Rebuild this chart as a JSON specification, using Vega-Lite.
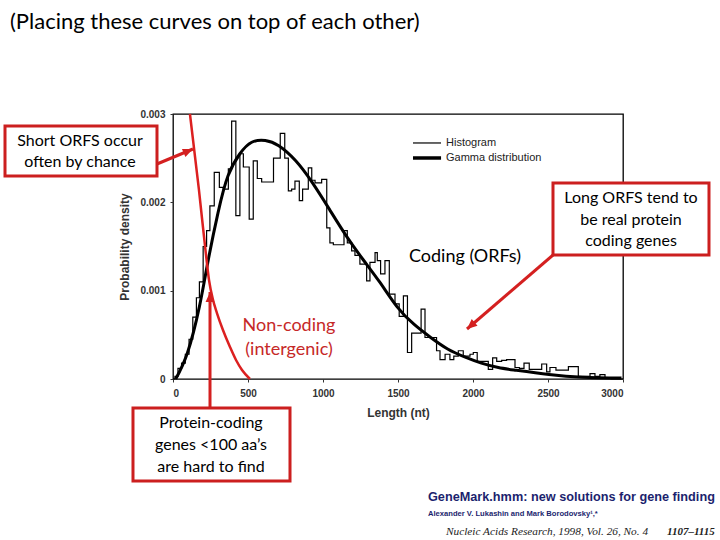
{
  "$schema": "https://vega.github.io/schema/vega-lite/v6.json",
  "width": 450,
  "height": 265,
  "autosize": "none",
  "padding": {"left": 173, "top": 114, "right": 97, "bottom": 161},
  "background": "white",
  "config": {
    "view": {"stroke": "black", "strokeWidth": 1.3},
    "axis": {"grid": false, "domain": false, "labelFont": "Liberation Sans", "labelFontWeight": "bold", "labelFontSize": 10, "labelColor": "#333", "tickColor": "#333", "tickSize": 3, "titleFont": "Liberation Sans", "titleFontWeight": "bold", "titleFontSize": 12, "titleColor": "#333"}
  },
  "datasets": {
    "hist": [
      {"x": 0, "y": 0}, {"x": 13, "y": 0.00003}, {"x": 33, "y": 0.00012}, {"x": 57, "y": 0.00018}, {"x": 82, "y": 0.00028},
      {"x": 107, "y": 0.00045}, {"x": 132, "y": 0.0007}, {"x": 156, "y": 0.00092}, {"x": 176, "y": 0.0011}, {"x": 201, "y": 0.0015},
      {"x": 224, "y": 0.00168}, {"x": 246, "y": 0.00196}, {"x": 275, "y": 0.00234}, {"x": 309, "y": 0.00217}, {"x": 335, "y": 0.00215},
      {"x": 369, "y": 0.00238}, {"x": 391, "y": 0.00292}, {"x": 419, "y": 0.00185}, {"x": 446, "y": 0.00255}, {"x": 469, "y": 0.0024},
      {"x": 508, "y": 0.00181}, {"x": 535, "y": 0.00247}, {"x": 562, "y": 0.00227}, {"x": 591, "y": 0.00223}, {"x": 670, "y": 0.0025},
      {"x": 715, "y": 0.00278}, {"x": 745, "y": 0.0025}, {"x": 769, "y": 0.00213}, {"x": 791, "y": 0.00215}, {"x": 813, "y": 0.00224},
      {"x": 842, "y": 0.00202}, {"x": 864, "y": 0.00215}, {"x": 902, "y": 0.00239}, {"x": 925, "y": 0.00225}, {"x": 947, "y": 0.00222},
      {"x": 991, "y": 0.00226}, {"x": 1025, "y": 0.00171}, {"x": 1046, "y": 0.00154}, {"x": 1069, "y": 0.00152}, {"x": 1140, "y": 0.00168},
      {"x": 1162, "y": 0.00154}, {"x": 1191, "y": 0.00145}, {"x": 1213, "y": 0.0014}, {"x": 1246, "y": 0.0013}, {"x": 1291, "y": 0.00111},
      {"x": 1313, "y": 0.00132}, {"x": 1347, "y": 0.00143}, {"x": 1362, "y": 0.00134}, {"x": 1384, "y": 0.00119}, {"x": 1413, "y": 0.00134},
      {"x": 1442, "y": 0.00096}, {"x": 1480, "y": 0.00085}, {"x": 1508, "y": 0.00071}, {"x": 1536, "y": 0.00094}, {"x": 1563, "y": 0.0003},
      {"x": 1591, "y": 0.00052}, {"x": 1654, "y": 0.00079}, {"x": 1680, "y": 0.00047}, {"x": 1757, "y": 0.00032}, {"x": 1780, "y": 0.00022},
      {"x": 1814, "y": 0.00028}, {"x": 1846, "y": 0.00022}, {"x": 1872, "y": 0.00026}, {"x": 1902, "y": 0.00032}, {"x": 1935, "y": 0.00026},
      {"x": 1980, "y": 0.00028}, {"x": 2002, "y": 0.0003}, {"x": 2028, "y": 0.0002}, {"x": 2102, "y": 0.00011}, {"x": 2131, "y": 0.00024},
      {"x": 2158, "y": 0.0002}, {"x": 2191, "y": 0.00021}, {"x": 2224, "y": 0.00022}, {"x": 2280, "y": 0.00013}, {"x": 2309, "y": 0.00012},
      {"x": 2340, "y": 0.00018}, {"x": 2375, "y": 0.00011}, {"x": 2458, "y": 0.00017}, {"x": 2491, "y": 0.00008}, {"x": 2513, "y": 0.00013},
      {"x": 2553, "y": 0.0001}, {"x": 2575, "y": 0.0001}, {"x": 2636, "y": 0.00014}, {"x": 2669, "y": 0.00014}, {"x": 2702, "y": 0.00003},
      {"x": 2780, "y": 0.00006}, {"x": 2813, "y": 0.00003}, {"x": 2846, "y": 0.00005}, {"x": 2880, "y": 0.00001}, {"x": 2920, "y": 0},
      {"x": 3000, "y": 0}
    ],
    "gamma": [
      {"x": 18, "y": 0}, {"x": 97, "y": 0.0003}, {"x": 176, "y": 0.00082}, {"x": 232, "y": 0.00132}, {"x": 300, "y": 0.00188},
      {"x": 367, "y": 0.0023}, {"x": 446, "y": 0.00255}, {"x": 525, "y": 0.00268}, {"x": 615, "y": 0.0027}, {"x": 705, "y": 0.00264},
      {"x": 818, "y": 0.00247}, {"x": 930, "y": 0.00222}, {"x": 1043, "y": 0.00192}, {"x": 1155, "y": 0.00162}, {"x": 1268, "y": 0.00135},
      {"x": 1381, "y": 0.00109}, {"x": 1493, "y": 0.00082}, {"x": 1606, "y": 0.00062}, {"x": 1718, "y": 0.00047}, {"x": 1831, "y": 0.00034},
      {"x": 1944, "y": 0.00025}, {"x": 2056, "y": 0.00018}, {"x": 2169, "y": 0.00013}, {"x": 2281, "y": 0.0001}, {"x": 2507, "y": 0.00005},
      {"x": 2732, "y": 0.00002}, {"x": 2990, "y": 0.00001}
    ],
    "noncoding": [
      {"x": 113, "y": 0.003}, {"x": 173, "y": 0.00214}, {"x": 220, "y": 0.001404}, {"x": 240, "y": 0.001121}, {"x": 267, "y": 0.000894},
      {"x": 293, "y": 0.000747}, {"x": 333, "y": 0.000555}, {"x": 380, "y": 0.000362}, {"x": 420, "y": 0.000215}, {"x": 460, "y": 0.000102},
      {"x": 513, "y": 0}
    ]
  },
  "layer": [
    {
      "data": {"name": "hist"},
      "mark": {"type": "line", "interpolate": "step-after", "color": "black", "strokeWidth": 1.2},
      "encoding": {
        "x": {"field": "x", "type": "quantitative", "scale": {"domain": [0, 3000], "nice": false, "zero": false},
              "axis": {"title": "Length (nt)", "values": [0, 500, 1000, 1500, 2000, 2500, 3000], "format": "d", "labelPadding": 6, "titlePadding": 9}},
        "y": {"field": "y", "type": "quantitative", "scale": {"domain": [0, 0.003], "nice": false, "zero": false},
              "axis": {"title": "Probability density", "values": [0, 0.001, 0.002, 0.003], "format": "~g", "labelPadding": 5, "titlePadding": 8}}
      }
    },
    {
      "data": {"name": "gamma"},
      "mark": {"type": "line", "interpolate": "natural", "color": "black", "strokeWidth": 3},
      "encoding": {"x": {"field": "x", "type": "quantitative"}, "y": {"field": "y", "type": "quantitative"}}
    },
    {
      "data": {"name": "noncoding"},
      "mark": {"type": "line", "interpolate": "monotone", "color": "#dc2020", "strokeWidth": 2.5},
      "encoding": {"x": {"field": "x", "type": "quantitative"}, "y": {"field": "y", "type": "quantitative"}}
    },
    {
      "data": {"values": [{"x": 1600, "x2": 1787, "y": 0.002672}]},
      "mark": {"type": "rule", "color": "black", "strokeWidth": 1.2},
      "encoding": {"x": {"field": "x", "type": "quantitative"}, "x2": {"field": "x2"}, "y": {"field": "y", "type": "quantitative"}}
    },
    {
      "data": {"values": [{"x": 1600, "x2": 1787, "y": 0.002502}]},
      "mark": {"type": "rule", "color": "black", "strokeWidth": 3.5},
      "encoding": {"x": {"field": "x", "type": "quantitative"}, "x2": {"field": "x2"}, "y": {"field": "y", "type": "quantitative"}}
    },
    {
      "data": {"values": [{"x": 1820, "y": 0.002672, "label": "Histogram"}, {"x": 1820, "y": 0.002502, "label": "Gamma distribution"}]},
      "mark": {"type": "text", "align": "left", "baseline": "middle", "font": "Liberation Sans", "fontSize": 11, "color": "#222"},
      "encoding": {"x": {"field": "x", "type": "quantitative"}, "y": {"field": "y", "type": "quantitative"}, "text": {"field": "label"}}
    },
    {
      "data": {"values": [
        {"x": -106.7, "y": 0.002434, "x2": 133.3, "y2": 0.0026038},
        {"x": 246.7, "y": -0.0003283, "x2": 246.7, "y2": 0.0009849},
        {"x": 2533.3, "y": 0.0014038, "x2": 1960, "y2": 0.000566}
      ]},
      "mark": {"type": "rule", "color": "#d42020", "strokeWidth": 3},
      "encoding": {"x": {"field": "x", "type": "quantitative"}, "y": {"field": "y", "type": "quantitative"}, "x2": {"field": "x2"}, "y2": {"field": "y2"}}
    },
    {
      "data": {"values": [{"x": 133.3, "y": 0.0026038}]},
      "mark": {"type": "point", "shape": "M0,0 L-0.7,1.6 L0.7,1.6 Z", "angle": 67, "size": 160, "filled": true, "color": "#d42020", "opacity": 1},
      "encoding": {"x": {"field": "x", "type": "quantitative"}, "y": {"field": "y", "type": "quantitative"}}
    },
    {
      "data": {"values": [{"x": 246.7, "y": 0.0009849}]},
      "mark": {"type": "point", "shape": "M0,0 L-0.7,1.6 L0.7,1.6 Z", "angle": 0, "size": 160, "filled": true, "color": "#d42020", "opacity": 1},
      "encoding": {"x": {"field": "x", "type": "quantitative"}, "y": {"field": "y", "type": "quantitative"}}
    },
    {
      "data": {"values": [{"x": 1960, "y": 0.000566}]},
      "mark": {"type": "point", "shape": "M0,0 L-0.7,1.6 L0.7,1.6 Z", "angle": 229, "size": 160, "filled": true, "color": "#d42020", "opacity": 1},
      "encoding": {"x": {"field": "x", "type": "quantitative"}, "y": {"field": "y", "type": "quantitative"}}
    },
    {
      "data": {"values": [
        {"x": -1120, "x2": -106.7, "y": 0.0028642, "y2": 0.0022981},
        {"x": -266.7, "x2": 780, "y": -0.0003283, "y2": -0.0011547},
        {"x": 2533.3, "x2": 3573.3, "y": 0.0022189, "y2": 0.0014038}
      ]},
      "mark": {"type": "rect", "fill": "white", "stroke": "#cc1f1f", "strokeWidth": 3},
      "encoding": {"x": {"field": "x", "type": "quantitative"}, "x2": {"field": "x2"}, "y": {"field": "y", "type": "quantitative"}, "y2": {"field": "y2"}}
    },
    {
      "data": {"values": [
        {"x": -620, "y": 0.0026943, "label": "Short ORFS occur"},
        {"x": -620, "y": 0.0024566, "label": "often by chance"},
        {"x": 253.3, "y": -0.000498, "label": "Protein-coding"},
        {"x": 253.3, "y": -0.000747, "label": "genes <100 aa’s"},
        {"x": 253.3, "y": -0.000996, "label": "are hard to find"},
        {"x": 3053.3, "y": 0.0020491, "label": "Long ORFS tend to"},
        {"x": 3053.3, "y": 0.0018, "label": "be real protein"},
        {"x": 3053.3, "y": 0.0015623, "label": "coding genes"}
      ]},
      "mark": {"type": "text", "align": "center", "baseline": "middle", "font": "Lato", "fontSize": 16, "color": "black"},
      "encoding": {"x": {"field": "x", "type": "quantitative"}, "y": {"field": "y", "type": "quantitative"}, "text": {"field": "label"}}
    },
    {
      "data": {"values": [{"x": 1946.7, "y": 0.0013811, "label": "Coding (ORFs)"}]},
      "mark": {"type": "text", "align": "center", "baseline": "middle", "font": "Lato", "fontSize": 18, "color": "black"},
      "encoding": {"x": {"field": "x", "type": "quantitative"}, "y": {"field": "y", "type": "quantitative"}, "text": {"field": "label"}}
    },
    {
      "data": {"values": [
        {"x": 773.3, "y": 0.0006, "label": "Non-coding"},
        {"x": 773.3, "y": 0.0003283, "label": "(intergenic)"}
      ]},
      "mark": {"type": "text", "align": "center", "baseline": "middle", "font": "Lato", "fontSize": 18, "color": "#c62828"},
      "encoding": {"x": {"field": "x", "type": "quantitative"}, "y": {"field": "y", "type": "quantitative"}, "text": {"field": "label"}}
    },
    {
      "data": {"values": [{"x": -1086.7, "y": 0.0040416, "label": "(Placing these curves on top of each other)"}]},
      "mark": {"type": "text", "align": "left", "baseline": "middle", "font": "Lato", "fontSize": 22, "color": "black"},
      "encoding": {"x": {"field": "x", "type": "quantitative"}, "y": {"field": "y", "type": "quantitative"}, "text": {"field": "label"}}
    },
    {
      "data": {"values": [{"x": 1700, "y": -0.0013358, "label": "GeneMark.hmm: new solutions for gene finding"}]},
      "mark": {"type": "text", "align": "left", "baseline": "middle", "font": "Liberation Sans", "fontWeight": "bold", "fontSize": 12.7, "color": "#1c1f6e"},
      "encoding": {"x": {"field": "x", "type": "quantitative"}, "y": {"field": "y", "type": "quantitative"}, "text": {"field": "label"}}
    },
    {
      "data": {"values": [{"x": 1700, "y": -0.0015283, "label": "Alexander V. Lukashin and Mark Borodovsky¹,*"}]},
      "mark": {"type": "text", "align": "left", "baseline": "middle", "font": "Liberation Sans", "fontWeight": "bold", "fontSize": 7.6, "color": "#1c1f6e"},
      "encoding": {"x": {"field": "x", "type": "quantitative"}, "y": {"field": "y", "type": "quantitative"}, "text": {"field": "label"}}
    },
    {
      "data": {"values": [{"x": 1820, "y": -0.001732, "label": "Nucleic Acids Research, 1998, Vol. 26, No. 4"}]},
      "mark": {"type": "text", "align": "left", "baseline": "middle", "font": "Liberation Serif", "fontStyle": "italic", "fontSize": 11.3, "color": "#222"},
      "encoding": {"x": {"field": "x", "type": "quantitative"}, "y": {"field": "y", "type": "quantitative"}, "text": {"field": "label"}}
    },
    {
      "data": {"values": [{"x": 3293.3, "y": -0.001732, "label": "1107–1115"}]},
      "mark": {"type": "text", "align": "left", "baseline": "middle", "font": "Liberation Serif", "fontStyle": "italic", "fontWeight": "bold", "fontSize": 11, "color": "#222"},
      "encoding": {"x": {"field": "x", "type": "quantitative"}, "y": {"field": "y", "type": "quantitative"}, "text": {"field": "label"}}
    }
  ]
}
